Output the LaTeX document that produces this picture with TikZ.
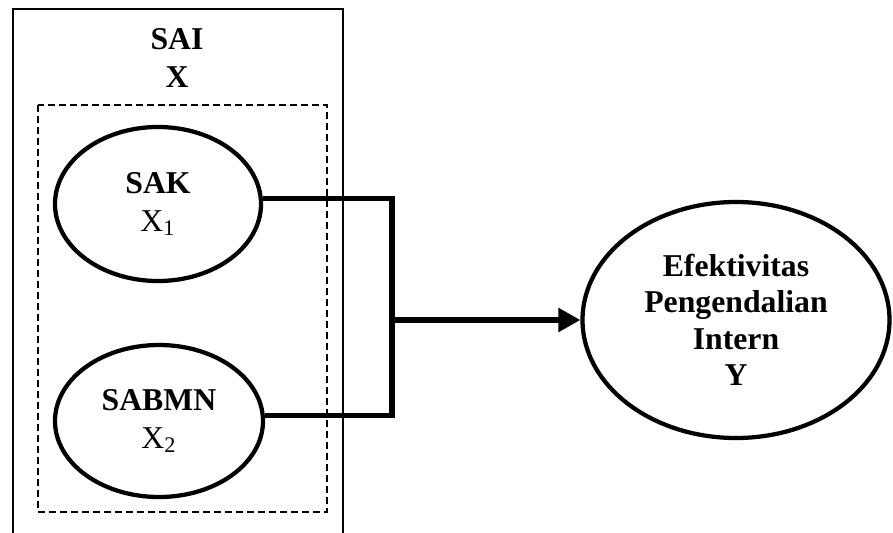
\documentclass[tikz,border=0pt]{standalone}
\usepackage{fontspec}
\setmainfont{Liberation Serif}
\usetikzlibrary{shapes,arrows.meta,positioning}

\begin{document}
\begin{tikzpicture}[
    % GLOBAL CFG
    x=0.4pt, y=-0.4pt,
    font=\fontsize{12.7}{15}\selectfont,
    >={Triangle[length=8.8pt,width=9.2pt]},
    % Styles
    varnode/.style={% For the variables
        ellipse,
        draw,
        line width=1.7pt,
        inner sep=0pt,
        align=center,
        },
    outerbox/.style={% For the SAI box
        draw,
        line width=0.5pt,
        },
    innerbox/.style={% For the dashed box
        draw,
        line width=0.45pt,
        dash pattern=on 2.8pt off 1.6pt,
        },
    ArrowT/.style={% Thick connectors
        line width=2.3pt,
        },
    ]

    \useasboundingbox (0,0) rectangle (893,533);

    % Draw the boxes
    \draw [outerbox] (13,533) |- (177,9) -| (343,533);
    \draw [innerbox] (38,105) rectangle (327,512);

    % Draw the title of the box
    \node [align=center, font=\fontsize{12.7}{15.2}\selectfont\bfseries] (sai) at (177,58) {SAI\\X};

    % Draw variables named var#
    \node [varnode, minimum width=82.4pt, minimum height=61.6pt] (var1) at (158,204) {\textbf{SAK}\\X\textsubscript{1}};
    \node [varnode, minimum width=83.2pt, minimum height=60.8pt] (var2) at (159,421) {\textbf{SABMN}\\X\textsubscript{2}};
    \node [varnode, minimum width=122.8pt, minimum height=94.4pt, font=\fontsize{12.7}{14.6}\selectfont\bfseries] (vy) at (736,320) {Efektivitas\\Pengendalian\\Intern\\Y};

    % Junction
    \coordinate (jn) at (392,320);

    % Connect all
    \draw [ArrowT] (var1.3) -| (jn) |- (var2.3);
    \draw [->, ArrowT] (jn) -- (vy);

\end{tikzpicture}
\end{document}
